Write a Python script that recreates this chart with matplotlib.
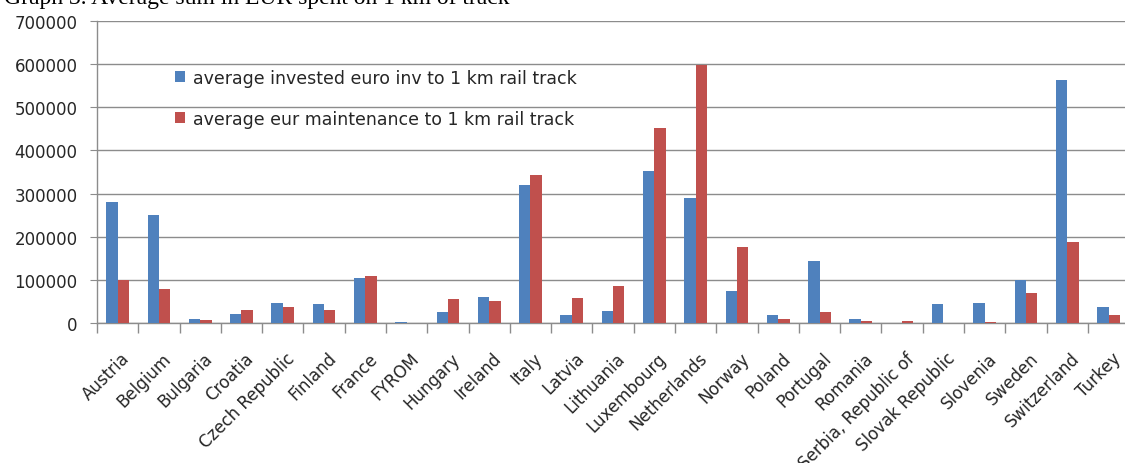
import matplotlib
matplotlib.use("Agg")
import matplotlib.pyplot as plt
import matplotlib.transforms as mtransforms
import numpy as np

countries = ["Austria", "Belgium", "Bulgaria", "Croatia", "Czech Republic", "Finland",
             "France", "FYROM", "Hungary", "Ireland", "Italy", "Latvia", "Lithuania",
             "Luxembourg", "Netherlands", "Norway", "Poland", "Portugal", "Romania",
             "Serbia, Republic of", "Slovak Republic", "Slovenia", "Sweden",
             "Switzerland", "Turkey"]
invested = [280000, 250000, 9000, 22000, 46000, 43000, 105000, 3000, 25000, 61000,
            320000, 19000, 28000, 353000, 290000, 74000, 19000, 143000, 9000, 0,
            43000, 46000, 99000, 564000, 36000]
maintenance = [99000, 79000, 7000, 31000, 37000, 31000, 109000, 1000, 55000, 50000,
               344000, 58000, 85000, 453000, 598000, 176000, 9000, 25000, 4000, 4000,
               0, 3000, 70000, 188000, 19000]
yticks = [0, 100000, 200000, 300000, 400000, 500000, 600000, 700000]
series_names = ["average invested euro inv to 1 km rail track",
                "average eur maintenance to 1 km rail track"]
title = "Graph 3. Average sum in EUR spent on 1 km of track"

BLUE = "#4F81BD"
RED = "#C0504D"
GRID = "#8c8c8c"
TEXT = "#262626"
FONT = "DejaVu Sans"

fig = plt.figure(figsize=(11.25, 4.64), dpi=100)
ax = fig.add_axes([0.0862, 0.3017, 0.9175, 0.6509])

x = np.arange(len(countries))
w = 0.275
ax.bar(x - w / 2, invested, width=w, color=BLUE, label=series_names[0], zorder=3)
ax.bar(x + w / 2, maintenance, width=w, color=RED, label=series_names[1], zorder=3)

ax.set_xlim(-0.5, len(countries) - 0.5)
ax.set_ylim(0, 700000)
ax.set_yticks(yticks)
ax.set_yticklabels([str(v) for v in yticks], fontfamily=FONT, fontsize=12, color=TEXT)
ax.yaxis.grid(True, color=GRID, linewidth=1.0, zorder=0)
ax.tick_params(axis="y", length=5, color=GRID, pad=9)

# category labels: rotated, top-right corner hung just below each category centre
ax.set_xticks(x)
ax.set_xticklabels(countries, rotation=45, ha="right", va="top", rotation_mode="anchor",
                   fontfamily=FONT, fontsize=12, color=TEXT)
ax.tick_params(axis="x", which="major", length=0, pad=18.5)
shift = mtransforms.ScaledTranslation(3 / 100, 0, fig.dpi_scale_trans)
for lbl in ax.get_xticklabels():
    lbl.set_transform(lbl.get_transform() + shift)
ax.set_xticks(np.arange(-0.5, len(countries)), minor=True)
ax.tick_params(axis="x", which="minor", length=7, color=GRID, width=1)

for side in ("top", "right"):
    ax.spines[side].set_visible(False)
for side in ("left", "bottom"):
    ax.spines[side].set_color(GRID)
    ax.spines[side].set_linewidth(1.0)

leg = ax.legend(loc="upper left", bbox_to_anchor=(0.0756, 0.842), frameon=False,
                prop={"family": FONT, "size": 12.5}, handlelength=0.58, handleheight=0.58,
                handletextpad=0.46, labelspacing=1.33, borderpad=0, borderaxespad=0)
for t in leg.get_texts():
    t.set_color(TEXT)

fig.text(0.004, 1 - 4 / 464, title, fontfamily="Liberation Serif", fontsize=17,
         ha="left", va="baseline", color="black")

fig.savefig("out.png", dpi=100)
